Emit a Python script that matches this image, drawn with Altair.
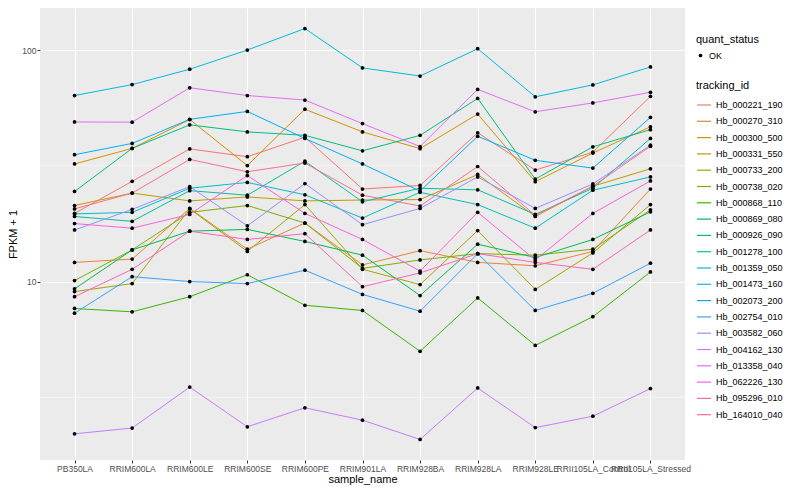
import altair as alt
import pandas as pd
import numpy as np

samples = ["PB350LA", "RRIM600LA", "RRIM600LE", "RRIM600SE", "RRIM600PE", "RRIM901LA",
           "RRIM928BA", "RRIM928LA", "RRIM928LE", "RRII105LA_Control", "RRII105LA_Stressed"]

tracking_ids = ["Hb_000221_190", "Hb_000270_310", "Hb_000300_500", "Hb_000331_550",
                "Hb_000733_200", "Hb_000738_020", "Hb_000868_110", "Hb_000869_080",
                "Hb_000926_090", "Hb_001278_100", "Hb_001359_050", "Hb_001473_160",
                "Hb_002073_200", "Hb_002754_010", "Hb_003582_060", "Hb_004162_130",
                "Hb_013358_040", "Hb_062226_130", "Hb_095296_010", "Hb_164010_040"]

palette = ["#F8766D", "#EA8331", "#D89000", "#C09B00", "#A3A500", "#7CAE00", "#39B600",
           "#00BB4E", "#00BF7D", "#00C1A3", "#00BFC4", "#00BAE0", "#00B0F6", "#35A2FF",
           "#9590FF", "#C77CFF", "#E76BF3", "#FA62DB", "#FF62BC", "#FF6C91"]

# FPKM + 1 per sample (order of `samples`)
hb_000221_190 = [19.7, 27.1, 37.4, 34.6, 42.0, 25.1, 26.0, 43.9, 30.3, 36.2, 63.1]
hb_000270_310 = [12.1, 12.5, 20.7, 13.8, 17.9, 11.8, 13.6, 12.1, 11.7, 13.5, 25.1]
hb_000300_500 = [32.2, 37.6, 50.1, 31.7, 55.5, 44.3, 37.5, 52.9, 27.0, 35.9, 46.6]
hb_000331_550 = [21.3, 24.1, 22.3, 23.2, 22.3, 22.5, 22.6, 29.0, 19.1, 25.8, 30.7]
hb_000733_200 = [9.05, 9.8, 20.6, 13.5, 21.5, 11.3, 9.7, 16.6, 9.25, 13.3, 21.5]
hb_000738_020 = [10.1, 13.7, 19.9, 21.3, 17.9, 11.4, 12.4, 13.2, 13.0, 13.8, 20.4]
hb_000868_110 = [7.65, 7.4, 8.6, 10.7, 7.9, 7.5, 5.0, 8.5, 5.3, 7.05, 11.0]
hb_000869_080 = [9.3, 13.7, 16.5, 16.8, 14.9, 13.0, 8.7, 14.5, 12.7, 15.2, 20.0]
hb_000926_090 = [24.5, 37.6, 47.5, 44.3, 42.8, 36.7, 42.8, 61.8, 27.7, 38.2, 45.3]
hb_001278_100 = [19.1, 18.2, 24.7, 23.6, 33.1, 22.1, 25.3, 24.9, 19.5, 25.3, 41.5]
hb_001359_050 = [19.6, 19.9, 25.3, 26.8, 23.7, 18.8, 24.3, 21.5, 17.0, 24.8, 28.3]
hb_001473_160 = [63.6, 70.9, 82.6, 100.0, 123.8, 83.7, 77.2, 101.3, 62.8, 70.7, 84.5]
hb_002073_200 = [35.3, 39.5, 50.2, 54.3, 41.5, 32.2, 24.6, 42.4, 33.4, 30.9, 51.2]
hb_002754_010 = [7.3, 10.5, 10.0, 9.8, 11.2, 8.8, 7.45, 13.2, 7.5, 8.9, 12.0]
hb_003582_060 = [16.7, 20.5, 25.7, 17.4, 26.5, 17.6, 20.7, 28.3, 20.7, 26.4, 38.8]
hb_004162_130 = [2.2, 2.33, 3.5, 2.36, 2.85, 2.52, 2.08, 3.47, 2.34, 2.62, 3.45]
hb_013358_040 = [48.9, 48.8, 68.7, 63.6, 60.8, 48.1, 38.3, 67.6, 54.1, 59.1, 65.7]
hb_062226_130 = [17.8, 17.0, 19.5, 28.7, 19.7, 15.2, 11.1, 19.9, 12.4, 19.7, 27.2]
hb_095296_010 = [8.6, 11.3, 16.5, 15.2, 16.1, 9.5, 10.9, 13.2, 12.1, 11.3, 16.7]
hb_164010_040 = [20.6, 24.1, 33.7, 29.8, 32.5, 23.6, 21.2, 31.4, 19.3, 25.8, 38.4]

series = [hb_000221_190, hb_000270_310, hb_000300_500, hb_000331_550, hb_000733_200,
          hb_000738_020, hb_000868_110, hb_000869_080, hb_000926_090, hb_001278_100,
          hb_001359_050, hb_001473_160, hb_002073_200, hb_002754_010, hb_003582_060,
          hb_004162_130, hb_013358_040, hb_062226_130, hb_095296_010, hb_164010_040]

rows = []
for tid, vals in zip(tracking_ids, series):
    for i, (s, v) in enumerate(zip(samples, vals)):
        rows.append({"tracking_id": tid, "sample_name": s, "idx": i,
                     "value": v, "quant_status": "OK"})
df = pd.DataFrame(rows)

# ggplot-like 5% expansion on log scale
lmin, lmax = np.log10(df["value"].min()), np.log10(df["value"].max())
ext = 0.05 * (lmax - lmin)
ydomain = [10 ** (lmin - ext), 10 ** (lmax + ext)]

minor_breaks = [10 ** 0.5, 10 ** 1.5]
minor_df = pd.DataFrame({"value": minor_breaks})

FONT = "Liberation Sans"

yaxis = alt.Axis(title="FPKM + 1", values=[10, 100], format="d",
                 grid=True, gridColor="white", gridWidth=1.1,
                 labelPadding=1, titlePadding=3)

xenc = alt.X("sample_name:N", sort=samples,
             scale=alt.Scale(type="point", padding=0.6),
             axis=alt.Axis(title="sample_name", labelAngle=0, labelOverlap=False,
                           grid=True, gridColor="white", gridWidth=1.1,
                           labelPadding=1, titlePadding=1))
yscale = alt.Scale(type="log", domain=ydomain, nice=False, zero=False)
yenc = alt.Y("value:Q", scale=yscale, axis=yaxis)

minor = alt.Chart(minor_df).mark_rule(color="white", strokeWidth=0.55).encode(
    y=alt.Y("value:Q", scale=yscale, axis=yaxis)
)

lines = alt.Chart(df).mark_line(strokeWidth=1).encode(
    x=xenc, y=yenc,
    order=alt.Order("idx:Q"),
    color=alt.Color("tracking_id:N",
                    scale=alt.Scale(domain=tracking_ids, range=palette),
                    legend=alt.Legend(title="tracking_id", orient="none",
                                      legendX=656, legendY=72,
                                      symbolType="stroke", symbolSize=200,
                                      symbolStrokeWidth=1.2, rowPadding=3.3)),
)

points = alt.Chart(df).mark_point(filled=True, size=14, opacity=1, color="black").encode(
    x=xenc, y=yenc,
    shape=alt.Shape("quant_status:N",
                    scale=alt.Scale(domain=["OK"], range=["circle"]),
                    legend=alt.Legend(title="quant_status", orient="none",
                                      legendX=656, legendY=26,
                                      symbolSize=14, symbolFillColor="black")),
)

chart = alt.layer(minor, lines, points).properties(
    width=645, height=452,
    autosize=alt.AutoSizeParams(type="none"),
    padding={"left": 32, "top": 0, "right": 107, "bottom": 32},
).configure_view(
    fill="#EBEBEB", stroke=None
).configure_axis(
    domain=False, tickColor="#333333", tickSize=3, tickWidth=1,
    labelColor="#4D4D4D", labelFontSize=8.5, labelFont=FONT,
    titleFont=FONT, titleFontSize=11, titleFontWeight="normal", titleColor="black",
).configure_legend(
    titleFont=FONT, titleFontSize=11, titleFontWeight="normal", titleColor="black",
    labelFont=FONT, labelFontSize=9, labelColor="black", titlePadding=6,
)

chart.save("out.html", embed_options={"renderer": "svg", "actions": False})
